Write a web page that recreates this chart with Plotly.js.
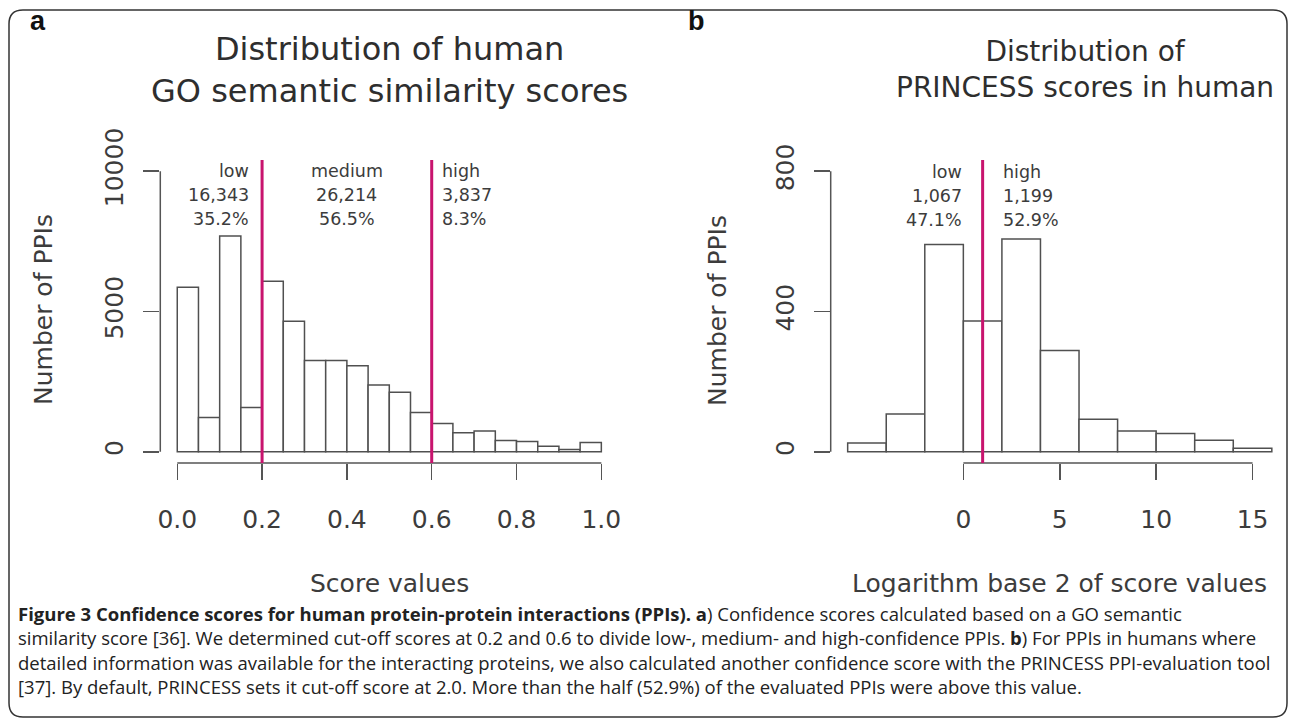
<!DOCTYPE html>
<html><head><meta charset="utf-8">
<script src="https://cdn.plot.ly/plotly-3.0.1.min.js"></script>
<style>html,body{margin:0;padding:0;background:#fff}#chart{width:1292px;height:720px}</style>
</head><body><div id="chart"></div>
<script>
// ---- Panel a: GO semantic similarity scores ----
const goBinEdges = [0,0.05,0.1,0.15,0.2,0.25,0.3,0.35,0.4,0.45,0.5,0.55,0.6,0.65,0.7,0.75,0.8,0.85,0.9,0.95,1.0];
const goCounts = [5860,1220,7690,1580,6080,4650,3250,3250,3070,2380,2120,1400,1010,680,740,400,370,200,80,330];
const goXTickVals = [0,0.2,0.4,0.6,0.8,1.0];
const goXTickText = ['0.0','0.2','0.4','0.6','0.8','1.0'];
const goYTickVals = [0,5000,10000];
const goCutoffs = [0.2,0.6];
const goGroups = ['low','medium','high'];
const goGroupCounts = ['16,343','26,214','3,837'];
const goGroupPct = ['35.2%','56.5%','8.3%'];

// ---- Panel b: PRINCESS scores (log2) ----
const prBinEdges = [-6,-4,-2,0,2,4,6,8,10,12,14,16];
const prCounts = [25,108,591,373,607,289,93,59,52,33,10];
const prXTickVals = [0,5,10,15];
const prYTickVals = [0,400,800];
const prCutoffs = [1];
const prGroups = ['low','high'];
const prGroupCounts = ['1,067','1,199'];
const prGroupPct = ['47.1%','52.9%'];

const W = 1292, H = 720;
const X = p => p / W, Y = p => 1 - p / H;
const TXT = '#3c3c3c', TTL = '#2e2e2e', AX = '#555', MAG = '#c8146e';
const FONT = 'DejaVu Sans';

function centers(e){ return e.slice(0,-1).map((v,i)=>(v+e[i+1])/2); }
function widths(e){ return e.slice(0,-1).map((v,i)=>e[i+1]-v); }

const barStyle = {color:'white', line:{color:'#505050', width:1.5}};
const traces = [
  {type:'bar', x:centers(goBinEdges), y:goCounts, width:widths(goBinEdges), marker:barStyle, xaxis:'x', yaxis:'y', hoverinfo:'skip'},
  {type:'bar', x:centers(prBinEdges), y:prCounts, width:widths(prBinEdges), marker:barStyle, xaxis:'x2', yaxis:'y2', hoverinfo:'skip'}
];

const axBase = {showgrid:false, zeroline:false, showline:false, ticks:'outside', ticklen:16, tickwidth:1.5, tickcolor:AX,
  tickfont:{family:FONT, size:25, color:TXT}, fixedrange:true};

const layout = {
  width:W, height:H, margin:{l:0,r:0,t:0,b:0}, paper_bgcolor:'white', plot_bgcolor:'white',
  showlegend:false, bargap:0,
  xaxis: Object.assign({}, axBase, {domain:[X(160.3), X(618.3)], range:[-0.04,1.04], tickmode:'array', tickvals:goXTickVals, ticktext:goXTickText, anchor:'y', ticklabelstandoff:18}),
  yaxis: Object.assign({}, axBase, {domain:[Y(463), Y(160)], range:[-400,10400], tickmode:'array', tickvals:goYTickVals, ticktext:goYTickVals.map(String), tickangle:-90, anchor:'x', ticklabelstandoff:10}),
  xaxis2: Object.assign({}, axBase, {domain:[X(830.7), X(1288.8)], range:[-6.88,16.88], tickmode:'array', tickvals:prXTickVals, ticktext:prXTickVals.map(String), anchor:'y2', ticklabelstandoff:18}),
  yaxis2: Object.assign({}, axBase, {domain:[Y(463), Y(160)], range:[-32,832], tickmode:'array', tickvals:prYTickVals, ticktext:prYTickVals.map(String), tickangle:-90, anchor:'x2', ticklabelstandoff:10}),
  shapes:[], annotations:[]
};

// R-style axis brackets spanning first..last tick
function brackets(xa, ya, xt, yt){
  layout.shapes.push({type:'line', xref:xa, yref:ya+' domain', x0:xt[0], x1:xt[xt.length-1], y0:0, y1:0, line:{color:AX, width:1.5}});
  layout.shapes.push({type:'line', xref:xa+' domain', yref:ya, x0:0, x1:0, y0:yt[0], y1:yt[yt.length-1], line:{color:AX, width:1.5}});
}
brackets('x','y',goXTickVals,goYTickVals);
brackets('x2','y2',prXTickVals,prYTickVals);

// cut-off lines
goCutoffs.forEach(c=>layout.shapes.push({type:'line', xref:'x', yref:'y domain', x0:c, x1:c, y0:0, y1:1, line:{color:MAG, width:3}}));
prCutoffs.forEach(c=>layout.shapes.push({type:'line', xref:'x2', yref:'y2 domain', x0:c, x1:c, y0:0, y1:1, line:{color:MAG, width:3}}));

// rounded frame
(function(){
  const x0=9,x1=1287,y0=10,y1=717,r=14;
  const p=(x,y)=>X(x)+','+Y(y);
  const path='M'+p(x0+r,y0)+' L'+p(x1-r,y0)+' Q'+p(x1,y0)+' '+p(x1,y0+r)+' L'+p(x1,y1-r)+' Q'+p(x1,y1)+' '+p(x1-r,y1)+
    ' L'+p(x0+r,y1)+' Q'+p(x0,y1)+' '+p(x0,y1-r)+' L'+p(x0,y0+r)+' Q'+p(x0,y0)+' '+p(x0+r,y0)+' Z';
  layout.shapes.push({type:'path', xref:'paper', yref:'paper', path:path, line:{color:'#333', width:1.5}});
})();

function ann(o){ layout.annotations.push(Object.assign({showarrow:false, font:{family:FONT, size:25, color:TXT}}, o)); }

// group labels
const rowsPx = [171,195,219];
const goLabelX = [0.175,0.4,0.62], goAnchor=['right','center','left'];
goGroups.forEach((g,i)=>{
  [g, goGroupCounts[i], goGroupPct[i]].forEach((t,j)=>ann({xref:'x', yref:'paper', x:goLabelX[i], y:Y(rowsPx[j]), xanchor:goAnchor[i], yanchor:'middle', align:goAnchor[i], text:t, font:{family:FONT,size:17.5,color:TXT}}));
});
const prLabelX = [0.02,1.95], prAnchor=['right','left'];
prGroups.forEach((g,i)=>{
  [g, prGroupCounts[i], prGroupPct[i]].forEach((t,j)=>ann({xref:'x2', yref:'paper', x:prLabelX[i], y:Y(rowsPx[j]+0.7), xanchor:prAnchor[i], yanchor:'middle', align:prAnchor[i], text:t, font:{family:FONT,size:17.5,color:TXT}}));
});

// titles
ann({xref:'paper', yref:'paper', x:X(389), y:Y(70), xanchor:'center', yanchor:'middle', text:'Distribution of human<br>GO semantic similarity scores', font:{family:FONT,size:32,color:TTL}});
ann({xref:'paper', yref:'paper', x:X(1085), y:Y(70), xanchor:'center', yanchor:'middle', text:'Distribution of<br>PRINCESS scores in human', font:{family:FONT,size:28,color:TTL}});
ann({xref:'paper', yref:'paper', x:X(28), y:Y(21), xanchor:'left', yanchor:'middle', text:'<b>a</b>', font:{family:'Liberation Sans',size:27,color:'#111'}});
ann({xref:'paper', yref:'paper', x:X(686), y:Y(21), xanchor:'left', yanchor:'middle', text:'<b>b</b>', font:{family:'Liberation Sans',size:27,color:'#111'}});

// axis titles
ann({xref:'paper', yref:'paper', x:X(389), y:Y(583), text:'Score values', xanchor:'center', yanchor:'middle'});
ann({xref:'paper', yref:'paper', x:X(1059), y:Y(583), text:'Logarithm base 2 of score values', xanchor:'center', yanchor:'middle'});
ann({xref:'paper', yref:'paper', x:X(43), y:Y(310), text:'Number of PPIs', textangle:-90, xanchor:'center', yanchor:'middle'});
ann({xref:'paper', yref:'paper', x:X(717), y:Y(311), text:'Number of PPIs', textangle:-90, xanchor:'center', yanchor:'middle'});

// caption
const caption = [
  '<b>Figure 3 Confidence scores for human protein-protein interactions (PPIs). a</b>) Confidence scores calculated based on a GO semantic',
  'similarity score [36]. We determined cut-off scores at 0.2 and 0.6 to divide low-, medium- and high-confidence PPIs. <b>b</b>) For PPIs in humans where',
  'detailed information was available for the interacting proteins, we also calculated another confidence score with the PRINCESS PPI-evaluation tool',
  '[37]. By default, PRINCESS sets it cut-off score at 2.0. More than the half (52.9%) of the evaluated PPIs were above this value.'
];
caption.forEach((t,i)=>ann({xref:'paper', yref:'paper', x:X(16), y:Y(613+24.5*i), xanchor:'left', yanchor:'middle', align:'left', text:t, font:{family:'Open Sans',size:18.5,color:'#222'}}));

Plotly.newPlot('chart', traces, layout, {staticPlot:true, displayModeBar:false});
</script></body></html>
